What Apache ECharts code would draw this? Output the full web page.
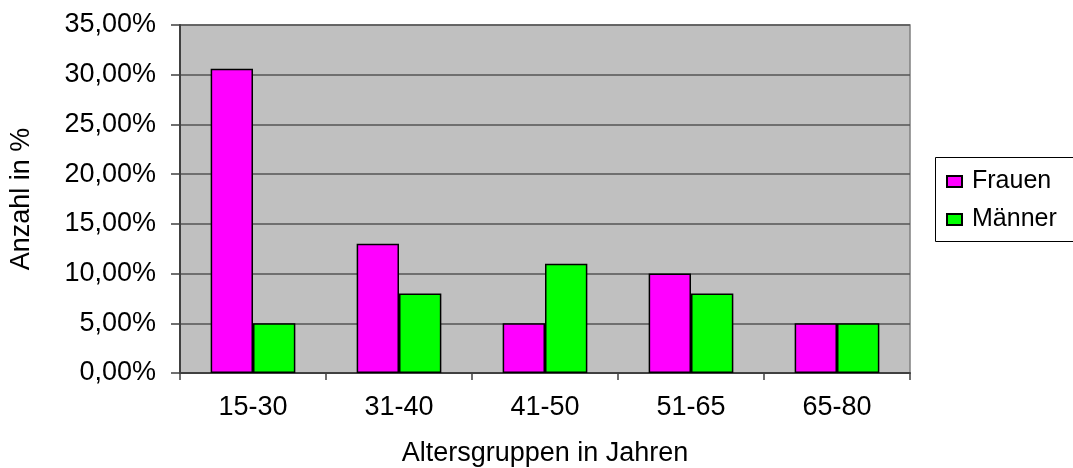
<!DOCTYPE html>
<html>
<head>
<meta charset="utf-8">
<script src="https://cdn.jsdelivr.net/npm/echarts@6/dist/echarts.min.js"></script>
<style>
  html, body { margin: 0; padding: 0; background: #ffffff; }
  #chart { width: 1073px; height: 468px; }
</style>
</head>
<body>
<div id="chart"></div>
<script>
// Altersgruppen und Anteile (in %)
const categories = ['15-30', '31-40', '41-50', '51-65', '65-80'];
const frauen = [30.6, 13, 5, 10, 5];
const maenner = [5, 8, 11, 8, 5];
const seriesNames = ['Frauen', 'Männer'];

const FONT = '"Liberation Sans", Arial, sans-serif';
const chart = echarts.init(document.getElementById('chart'), null, { renderer: 'canvas' });

const barStyle = (color) => ({ color: color, borderColor: '#000000', borderWidth: 1.5 });

chart.setOption({
  animation: false,
  backgroundColor: '#ffffff',
  textStyle: { fontFamily: FONT },
  grid: {
    left: 180, right: 163, top: 25, bottom: 95,
    containLabel: false,
    outerBoundsMode: 'none',
    show: true,
    backgroundColor: '#c0c0c0',
    borderColor: '#808080',
    borderWidth: 1.5
  },
  graphic: [{
    type: 'rect',
    left: 935, top: 157,
    shape: { width: 145, height: 84 },
    style: { fill: '#ffffff', stroke: '#000000', lineWidth: 1 },
    z: 1
  }],
  legend: {
    orient: 'vertical',
    left: 946, top: 169,
    padding: 0,
    itemWidth: 15, itemHeight: 11,
    itemGap: 13,
    icon: 'rect',
    textStyle: { fontSize: 25, color: '#000000', fontFamily: FONT, padding: [0, 0, 0, 5] },
    z: 3
  },
  xAxis: {
    type: 'category',
    data: categories,
    boundaryGap: true,
    name: 'Altersgruppen in Jahren',
    nameLocation: 'middle',
    nameGap: 67,
    nameTextStyle: { fontSize: 27, color: '#000000', fontFamily: FONT },
    axisLine: { lineStyle: { color: '#404040', width: 2 } },
    axisTick: { show: true, length: 7, lineStyle: { color: '#404040', width: 1.5 } },
    axisLabel: { fontSize: 27, color: '#000000', margin: 21, fontFamily: FONT },
    splitLine: { show: false }
  },
  yAxis: {
    type: 'value',
    min: 0, max: 35, interval: 5,
    name: 'Anzahl in %',
    nameLocation: 'middle',
    nameGap: 145,
    nameRotate: 90,
    nameTextStyle: { fontSize: 27, color: '#000000', fontFamily: FONT },
    axisLine: { show: true, lineStyle: { color: '#404040', width: 2 } },
    axisTick: { show: true, inside: false, length: 9, lineStyle: { color: '#404040', width: 1.5 } },
    axisLabel: {
      fontSize: 27, color: '#000000', margin: 24, fontFamily: FONT,
      formatter: (v) => v.toFixed(2).replace('.', ',') + '%'
    },
    splitLine: { show: true, lineStyle: { color: '#555555', width: 1.5 } }
  },
  series: [
    {
      name: seriesNames[0], type: 'bar', data: frauen,
      barGap: '0%', barCategoryGap: '42%',
      itemStyle: barStyle('#ff00ff')
    },
    {
      name: seriesNames[1], type: 'bar', data: maenner,
      barGap: '0%', barCategoryGap: '42%',
      itemStyle: barStyle('#00ff00')
    }
  ]
});
</script>
</body>
</html>
